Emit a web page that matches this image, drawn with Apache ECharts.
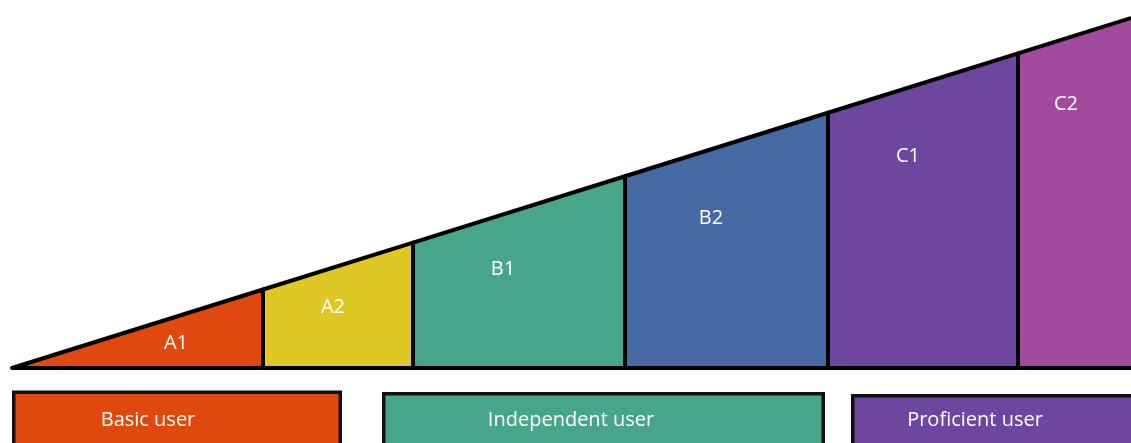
<!DOCTYPE html>
<html>
<head>
<meta charset="utf-8">
<script src="https://cdn.jsdelivr.net/npm/echarts@6/dist/echarts.min.js"></script>
<style>
html,body{margin:0;padding:0;background:#fff;}
#chart{width:1131px;height:443px;}
</style>
</head>
<body>
<div id="chart"></div>
<script>
// ---- data ----
const levels = ['A1', 'A2', 'B1', 'B2', 'C1', 'C2'];
const levelEnds = [251, 401, 613, 816, 1006, 1160]; // cumulative proficiency scale
const groups = ['Basic user', 'Independent user', 'Proficient user'];
const groupStart = [0, 370, 839];
const groupEnd = [330, 813, 1160];

// ---- style / layout ----
const levelColors = ['#E0480F', '#DFC726', '#47A68A', '#4669A4', '#6D46A0', '#A0499D'];
const groupColors = ['#E0480F', '#47A68A', '#6D46A0'];
const labelPx = [[176, 343], [333, 307], [503, 269], [711, 218], [908, 156], [1066, 104]];
const groupLabelX = [148, 571, 975];
const groupTopShift = [0, 1.5, 3.5];
const FONT = '"Open Sans", "Noto Sans", sans-serif';

const rampData = levels.map((name, i) => [i === 0 ? 0 : levelEnds[i - 1], levelEnds[i], i]);
const groupData = groups.map((g, i) => [groupStart[i], groupEnd[i], i]);

const chart = echarts.init(document.getElementById('chart'), null, {renderer: 'canvas'});
chart.setOption({
  animation: false,
  backgroundColor: '#ffffff',
  grid: [
    {left: 12, top: 18, width: 1119, height: 350},
    {left: 12, top: 390.5, width: 1119, height: 70}
  ],
  xAxis: [
    {type: 'value', gridIndex: 0, min: 0, max: 1119, show: false},
    {type: 'value', gridIndex: 1, min: 0, max: 1119, show: false}
  ],
  yAxis: [
    {type: 'value', gridIndex: 0, min: 0, max: 1119, show: false},
    {type: 'value', gridIndex: 1, min: 0, max: 1, show: false}
  ],
  series: [
    {
      type: 'custom',
      xAxisIndex: 0, yAxisIndex: 0,
      data: rampData,
      renderItem: function (params, api) {
        const x0 = api.value(0), x1 = api.value(1), i = api.value(2);
        const pts = [
          api.coord([x0, 0]), api.coord([x1, 0]),
          api.coord([x1, x1]), api.coord([x0, x0])
        ];
        return {
          type: 'group',
          children: [
            {
              type: 'polygon',
              shape: {points: pts},
              style: {fill: levelColors[i], stroke: '#000', lineWidth: 4, lineJoin: 'round'}
            },
            {
              type: 'text',
              x: labelPx[i][0], y: labelPx[i][1],
              style: {
                text: levels[i], fill: '#fff', font: '20px ' + FONT,
                align: 'center', verticalAlign: 'middle'
              }
            }
          ]
        };
      }
    },
    {
      type: 'custom',
      xAxisIndex: 1, yAxisIndex: 1,
      data: groupData,
      renderItem: function (params, api) {
        const s = api.value(0), e = api.value(1), i = api.value(2);
        const tl = api.coord([s, 1]);
        const br = api.coord([e, 0]);
        const lw = 3.5;
        const top = tl[1] + groupTopShift[i];
        return {
          type: 'group',
          children: [
            {
              type: 'rect',
              shape: {x: tl[0] + lw / 2, y: top + lw / 2, width: br[0] - tl[0] - lw, height: br[1] - top},
              style: {fill: groupColors[i], stroke: '#111', lineWidth: lw}
            },
            {
              type: 'text',
              x: groupLabelX[i],
              y: 420,
              style: {
                text: groups[i], fill: '#fff', font: '20px ' + FONT,
                align: 'center', verticalAlign: 'middle'
              }
            }
          ]
        };
      }
    }
  ]
});
</script>
</body>
</html>
